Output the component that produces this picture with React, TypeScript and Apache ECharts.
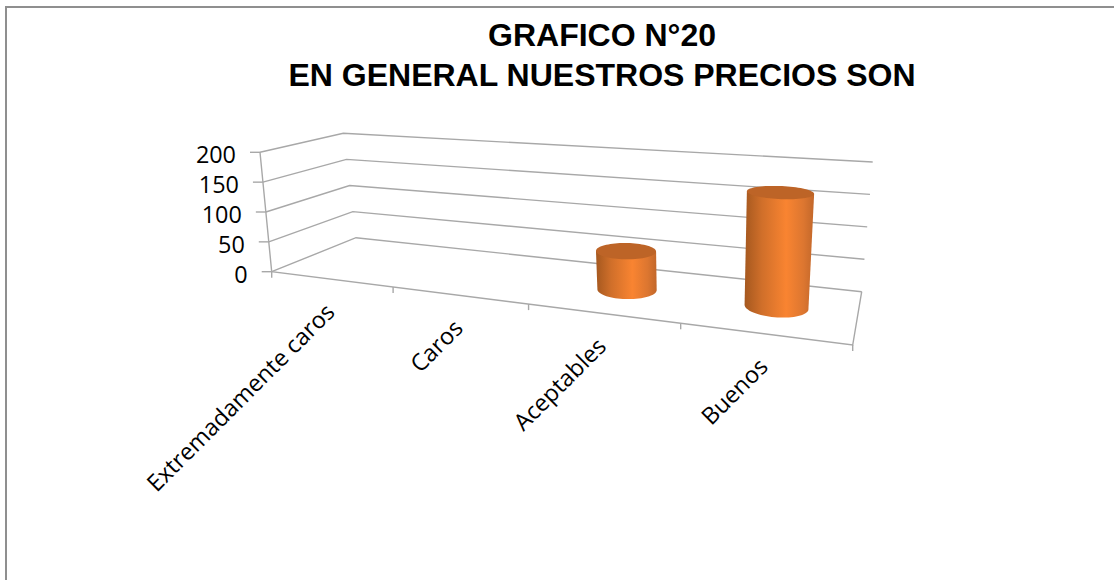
import React, { useEffect, useRef } from "react";
import * as echarts from "echarts";

const titleLines = ["GRAFICO N°20", "EN GENERAL NUESTROS PRECIOS SON"];
const categories = ["Extremadamente caros", "Caros", "Aceptables", "Buenos"];
const values = [0, 0, 60, 168];
const yTicks = [0, 50, 100, 150, 200];

// Hidden cartesian system: its scales give normalised positions that the
// oblique view below turns into screen positions.
const GRID = { left: 100, top: 100, width: 400, height: 200 };

type P = [number, number];
// Corners of the plot box: front-left, front-right, back-right, back-left.
const FLOOR: P[] = [[271.7, 271.7], [852.7, 345], [861.7, 291.7], [356, 237.7]];
const CEILING: P[] = [[260, 152.3], [862, 192], [872.7, 162], [343.3, 133.3]];

function homography(q: P[]) {
  const [A, B, C, D] = q;
  const dx1 = B[0] - C[0], dy1 = B[1] - C[1];
  const dx2 = D[0] - C[0], dy2 = D[1] - C[1];
  const sx = A[0] - B[0] + C[0] - D[0], sy = A[1] - B[1] + C[1] - D[1];
  const det = dx1 * dy2 - dx2 * dy1;
  const g = (sx * dy2 - dx2 * sy) / det;
  const h = (dx1 * sy - sx * dy1) / det;
  const a = B[0] - A[0] + g * B[0], b = D[0] - A[0] + h * D[0];
  const d = B[1] - A[1] + g * B[1], e = D[1] - A[1] + h * D[1];
  return (u: number, w: number): P => {
    const k = g * u + h * w + 1;
    return [(a * u + b * w + A[0]) / k, (d * u + e * w + A[1]) / k];
  };
}
const floorAt = homography(FLOOR);
const ceilingAt = homography(CEILING);

// u: along the categories, w: depth, t: height, all from 0 to 1.
function view(u: number, w: number, t: number): P {
  const f = floorAt(u, w), c = ceilingAt(u, w);
  return [f[0] + (c[0] - f[0]) * t, f[1] + (c[1] - f[1]) * t];
}

function normalised(pt: number[]) {
  return { u: (pt[0] - GRID.left) / GRID.width, t: (GRID.top + GRID.height - pt[1]) / GRID.height };
}

const LINE = { stroke: "#a8a8a8", lineWidth: 1.4, fill: "none" };
const TEXT_FONT = '23.4px "Open Sans"';
const polyline = (points: P[], style = LINE) => ({ type: "polyline", shape: { points }, style });

const RU = 0.05, RW = 0.2, WC = 0.5;

function ring(uc: number, t: number): P[] {
  const pts: P[] = [];
  for (let i = 0; i < 72; i++) {
    const a = (i / 72) * Math.PI * 2;
    pts.push(view(uc + RU * Math.cos(a), WC + RW * Math.sin(a), t));
  }
  return pts;
}

function renderWall(_: any, api: any) {
  const { t } = normalised(api.coord([0, api.value(1)]));
  const front = view(0, 0, t);
  return {
    type: "group",
    children: [
      polyline([front, view(0, 1, t), view(1, 1, t)]),
      polyline([[front[0] - 10, front[1]], front]),
      {
        type: "text",
        style: {
          text: String(api.value(1)),
          x: front[0] - 24,
          y: front[1] + 2,
          align: "right",
          verticalAlign: "middle",
          font: TEXT_FONT,
          fill: "#000",
        },
      },
    ],
  };
}

function renderFrame() {
  return {
    type: "group",
    children: [
      polyline([view(0, 0, 1), view(0, 0, 0), view(1, 0, 0), view(1, 1, 0)]),
      polyline([view(1, 0, 0), [view(1, 0, 0)[0], view(1, 0, 0)[1] + 6]]),
    ],
  };
}

function renderCategory(params: any, api: any) {
  const band = api.size([1, 0])[0];
  const { u } = normalised(api.coord([api.value(0), 0]));
  const tickU = u - band / GRID.width / 2;
  const base = view(tickU, 0, 0);
  const mid = view(u, 0, 0);
  return {
    type: "group",
    children: [
      polyline([base, [base[0], base[1] + 6]]),
      {
        type: "text",
        x: mid[0] - 1,
        y: mid[1] + 28,
        rotation: Math.PI / 4,
        style: {
          text: categories[params.dataIndex],
          x: 0,
          y: 0,
          align: "right",
          verticalAlign: "middle",
          font: TEXT_FONT,
          fill: "#000",
        },
      },
    ],
  };
}

function renderCylinder(_: any, api: any) {
  const value = api.value(1);
  if (!value) return { type: "group", children: [] };
  const { u } = normalised(api.coord([api.value(0), 0]));
  const { t } = normalised(api.coord([api.value(0), value]));
  const bottom = ring(u, 0);
  const top = ring(u, t);
  const extremes = (pts: P[]) => {
    let lo = 0, hi = 0;
    pts.forEach((p, i) => {
      if (p[0] < pts[lo][0]) lo = i;
      if (p[0] > pts[hi][0]) hi = i;
    });
    return [lo, hi];
  };
  const [bl, br] = extremes(bottom);
  const [tl, tr] = extremes(top);
  // The front of the base runs the short way round the ring, through the lowest point.
  const arc: P[] = [];
  const step = bottom[(bl + 1) % 72][1] > bottom[bl][1] ? 1 : -1;
  for (let i = bl; ; i = (i + step + 72) % 72) {
    arc.push(bottom[i]);
    if (i === br) break;
  }
  return {
    type: "group",
    children: [
      {
        type: "polygon",
        shape: { points: [...arc, top[tr], top[tl]] },
        style: {
          fill: new echarts.graphic.LinearGradient(0, 0, 1, 0, [
            { offset: 0, color: "#a5581f" },
            { offset: 0.25, color: "#d06f2a" },
            { offset: 0.6, color: "#f98431" },
            { offset: 0.85, color: "#dc7630" },
            { offset: 1, color: "#c2672a" },
          ]),
        },
      },
      { type: "polygon", shape: { points: top }, style: { fill: "#bd6427" } },
    ],
  };
}

export default function App() {
  const ref = useRef<HTMLDivElement>(null);
  useEffect(() => {
    const chart = echarts.init(ref.current!, undefined, { renderer: "svg" });
    chart.setOption({
      animation: false,
      backgroundColor: "#fff",
      title: {
        text: titleLines.join("\n"),
        left: 597,
        top: 10,
        textAlign: "center",
        textStyle: {
          fontFamily: '"Liberation Sans"',
          fontWeight: "bold",
          fontSize: 32,
          lineHeight: 40,
          color: "#000",
        },
      },
      grid: GRID,
      xAxis: { type: "category", data: categories, show: false },
      yAxis: { type: "value", min: 0, max: 200, interval: 50, show: false },
      graphic: [
        {
          type: "polyline",
          shape: { points: [[6, 580], [6, 7], [1114, 7]] },
          style: { stroke: "#8f8f8f", lineWidth: 2, fill: "none" },
        },
      ],
      series: [
        { type: "custom", name: "paredes", renderItem: renderWall, data: yTicks.map((v) => [0, v]), encode: { x: 0, y: 1 }, silent: true, z: 1 },
        { type: "custom", name: "marco", renderItem: renderFrame, data: [[0, 0]], encode: { x: 0, y: 1 }, silent: true, z: 1 },
        { type: "custom", name: "categorias", renderItem: renderCategory, data: categories.map((_, i) => [i, 0]), encode: { x: 0, y: 1 }, silent: true, z: 1 },
        { type: "custom", name: "precios", renderItem: renderCylinder, data: values.map((v, i) => [i, v]), encode: { x: 0, y: 1 }, silent: true, z: 2 },
      ],
    });
    return () => chart.dispose();
  }, []);
  return <div ref={ref} style={{ position: "fixed", left: 0, top: 0, width: 1114, height: 580 }} />;
}
